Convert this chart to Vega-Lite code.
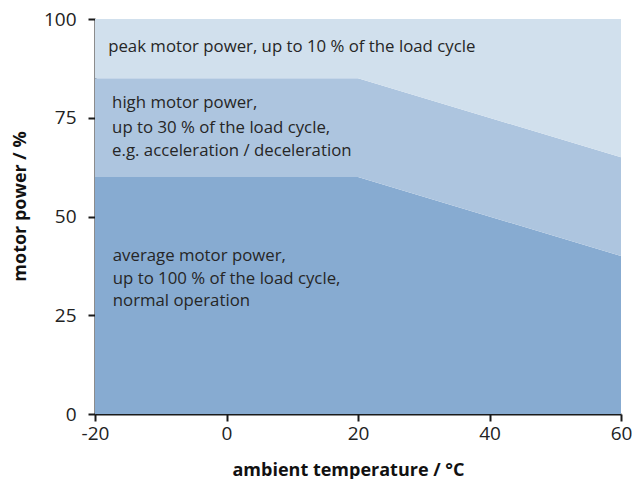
{
  "$schema": "https://vega.github.io/schema/vega-lite/v6.json",
  "width": 526,
  "height": 395,
  "autosize": {"type": "none"},
  "padding": {"left": 95, "top": 19, "right": 11, "bottom": 65},
  "background": "white",
  "config": {
    "view": {"stroke": null},
    "font": "Open Sans",
    "axis": {
      "grid": false,
      "domainColor": "#1a1a1a",
      "domainWidth": 2,
      "tickColor": "#1a1a1a",
      "tickWidth": 2,
      "tickSize": 7,
      "labelFont": "Open Sans",
      "labelFontSize": 19,
      "labelColor": "#222222",
      "titleFont": "Open Sans",
      "titleFontSize": 18,
      "titleFontWeight": "bold",
      "titleColor": "#111111"
    }
  },
  "datasets": {
    "areas": [
      {"band": "average", "temp": -20, "low": 0, "high": 60},
      {"band": "average", "temp": 20, "low": 0, "high": 60},
      {"band": "average", "temp": 60, "low": 0, "high": 40},
      {"band": "high", "temp": -20, "low": 60, "high": 85},
      {"band": "high", "temp": 20, "low": 60, "high": 85},
      {"band": "high", "temp": 60, "low": 40, "high": 65},
      {"band": "peak", "temp": -20, "low": 85, "high": 100},
      {"band": "peak", "temp": 20, "low": 85, "high": 100},
      {"band": "peak", "temp": 60, "low": 65, "high": 100}
    ],
    "labels": [
      {"temp": -18.0, "power": 93.0, "text": "peak motor power, up to 10 % of the load cycle"},
      {"temp": -17.4, "power": 78.7, "text": "high motor power,"},
      {"temp": -17.4, "power": 72.4, "text": "up to 30 % of the load cycle,"},
      {"temp": -17.4, "power": 66.6, "text": "e.g. acceleration / deceleration"},
      {"temp": -17.3, "power": 40.0, "text": "average motor power,"},
      {"temp": -17.3, "power": 34.2, "text": "up to 100 % of the load cycle,"},
      {"temp": -17.3, "power": 28.6, "text": "normal operation"}
    ]
  },
  "layer": [
    {
      "data": {"name": "areas"},
      "mark": {"type": "area", "opacity": 1},
      "encoding": {
        "x": {
          "field": "temp", "type": "quantitative",
          "scale": {"domain": [-20, 60], "nice": false, "zero": false},
          "axis": {"values": [-20, 0, 20, 40, 60], "labelExpr": "'' + datum.value", "title": "ambient temperature / °C", "labelPadding": 3, "titlePadding": 18, "titleX": 253, "labelFlush": false}
        },
        "y": {
          "field": "high", "type": "quantitative",
          "scale": {"domain": [0, 100], "nice": false},
          "axis": {"values": [0, 25, 50, 75, 100], "title": "motor power / %", "labelPadding": 12, "titlePadding": 14, "titleY": 187}
        },
        "y2": {"field": "low"},
        "color": {
          "field": "band", "type": "nominal",
          "scale": {"domain": ["average", "high", "peak"], "range": ["#87abd1", "#adc5df", "#d1e0ed"]},
          "legend": null
        }
      }
    },
    {
      "data": {"name": "labels"},
      "mark": {"type": "text", "align": "left", "baseline": "middle", "font": "Open Sans", "fontSize": 16.8, "color": "#262626"},
      "encoding": {
        "x": {"field": "temp", "type": "quantitative"},
        "y": {"field": "power", "type": "quantitative"},
        "text": {"field": "text"}
      }
    }
  ]
}
